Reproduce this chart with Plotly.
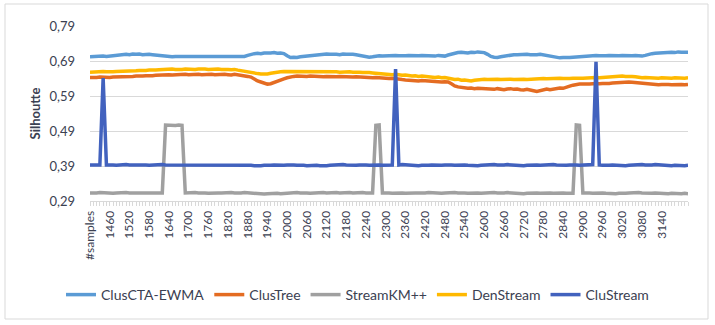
import plotly.graph_objects as go

# x categories: header row "#samples" followed by sample counts
categories = ["#samples"] + [str(v) for v in range(1410, 3230, 10)]
# labels shown on the axis (every 6th category, up to 3140 as in the source chart)
shown_labels = ["#samples"] + [str(v) for v in range(1460, 3141, 60)]
tick_labels = [c if c in shown_labels else "" for c in categories]

clus_cta_ewma = [
    .702,.703,.702,.703,.704,.703,.704,.705,.706,.708,
    .708,.709,.708,.710,.709,.710,.708,.709,.709,.708,
    .707,.706,.704,.702,.701,.702,.703,.703,.704,.703,
    .704,.703,.704,.705,.704,.703,.704,.705,.704,.703,
    .704,.705,.704,.703,.704,.705,.704,.703,.706,.709,
    .711,.712,.711,.713,.712,.713,.714,.712,.713,.711,
    .705,.700,.701,.700,.702,.703,.704,.706,.705,.707,
    .708,.709,.710,.709,.710,.709,.708,.710,.709,.710,
    .709,.708,.706,.703,.702,.701,.702,.704,.705,.704,
    .705,.704,.705,.706,.705,.704,.705,.706,.705,.704,
    .705,.706,.705,.704,.705,.704,.706,.705,.704,.707,
    .710,.713,.714,.715,.714,.713,.715,.714,.716,.715,
    .714,.709,.703,.701,.700,.702,.704,.706,.707,.708,
    .708,.709,.708,.709,.708,.707,.708,.709,.707,.706,
    .704,.702,.700,.699,.700,.699,.700,.701,.702,.703,
    .704,.705,.704,.705,.706,.705,.704,.705,.706,.705,
    .704,.705,.706,.705,.704,.705,.706,.705,.704,.706,
    .709,.711,.712,.713,.714,.713,.714,.715,.714,.716,
    .715,.716,.715,
]

clus_tree = [
    .643,.642,.643,.644,.643,.642,.643,.644,.644,.645,
    .645,.646,.645,.646,.647,.646,.647,.648,.647,.648,
    .649,.650,.649,.650,.651,.650,.651,.652,.651,.652,
    .651,.652,.653,.652,.651,.652,.653,.652,.651,.652,
    .653,.652,.651,.650,.652,.651,.649,.648,.646,.644,
    .637,.633,.630,.626,.624,.625,.629,.633,.636,.639,
    .642,.645,.646,.647,.646,.647,.646,.647,.646,.647,
    .646,.645,.646,.645,.646,.645,.646,.645,.644,.645,
    .644,.645,.644,.643,.644,.643,.642,.643,.642,.641,
    .641,.640,.641,.639,.638,.637,.636,.635,.635,.634,
    .633,.634,.633,.632,.631,.632,.631,.630,.631,.630,
    .625,.619,.616,.614,.613,.612,.613,.611,.612,.611,
    .610,.611,.610,.609,.611,.610,.608,.610,.611,.609,
    .610,.608,.607,.609,.606,.605,.603,.606,.609,.610,
    .608,.610,.611,.613,.612,.614,.618,.621,.623,.624,
    .624,.623,.624,.625,.624,.625,.626,.625,.626,.627,
    .628,.629,.630,.629,.630,.629,.628,.626,.625,.624,
    .623,.624,.623,.622,.623,.624,.623,.622,.623,.622,
    .623,.622,.623,
]

stream_km = [
    .313,.312,.313,.314,.313,.314,.313,.312,.313,.314,
    .313,.314,.313,.313,.314,.313,.312,.313,.314,.313,
    .313,.314,.313,.507,.506,.505,.506,.507,.506,.313,
    .314,.313,.314,.313,.314,.313,.312,.313,.314,.313,
    .313,.314,.313,.314,.313,.312,.313,.314,.313,.312,
    .311,.312,.311,.310,.311,.312,.311,.312,.311,.312,
    .313,.314,.313,.314,.313,.314,.313,.312,.313,.314,
    .313,.314,.313,.314,.315,.314,.313,.314,.313,.314,
    .313,.314,.313,.314,.313,.314,.313,.506,.507,.313,
    .314,.313,.312,.313,.314,.313,.312,.313,.312,.313,
    .313,.312,.313,.314,.313,.314,.313,.312,.313,.314,
    .315,.314,.313,.314,.313,.312,.313,.312,.313,.312,
    .313,.314,.313,.314,.313,.312,.313,.314,.313,.312,
    .311,.312,.311,.312,.313,.314,.313,.312,.313,.312,
    .313,.312,.313,.312,.313,.312,.313,.312,.507,.506,
    .313,.314,.313,.312,.313,.312,.313,.312,.311,.312,
    .311,.312,.311,.312,.313,.314,.313,.314,.313,.312,
    .313,.312,.313,.312,.311,.312,.311,.312,.311,.312,
    .311,.312,.311,
]

den_stream = [
    .658,.659,.658,.659,.660,.659,.658,.659,.660,.660,
    .661,.660,.662,.661,.662,.663,.662,.663,.664,.663,
    .664,.665,.666,.665,.666,.667,.666,.665,.666,.667,
    .666,.667,.666,.667,.668,.667,.666,.667,.666,.667,
    .666,.667,.666,.665,.666,.664,.662,.661,.660,.658,
    .656,.654,.653,.652,.653,.655,.657,.658,.659,.660,
    .660,.661,.660,.659,.660,.661,.660,.659,.660,.661,
    .660,.659,.660,.659,.660,.659,.658,.659,.658,.659,
    .658,.659,.658,.657,.658,.657,.656,.655,.654,.653,
    .653,.652,.651,.652,.650,.649,.650,.648,.647,.648,
    .646,.647,.646,.644,.645,.643,.644,.642,.643,.641,
    .640,.637,.638,.635,.636,.634,.633,.635,.636,.638,
    .638,.637,.638,.639,.638,.637,.638,.639,.638,.637,
    .638,.639,.638,.637,.638,.639,.638,.639,.640,.639,
    .640,.639,.640,.641,.640,.639,.640,.641,.640,.641,
    .641,.642,.641,.642,.643,.642,.643,.644,.643,.644,
    .645,.646,.647,.646,.647,.646,.645,.643,.642,.643,
    .642,.641,.642,.641,.642,.641,.642,.641,.642,.641,
    .642,.641,.642,
]

clu_stream = [
    .393,.394,.393,.393,.641,.393,.394,.393,.392,.393,
    .393,.394,.393,.394,.393,.393,.394,.393,.392,.393,
    .394,.393,.394,.393,.393,.394,.393,.392,.393,.394,
    .393,.394,.393,.394,.393,.394,.393,.392,.393,.394,
    .393,.394,.393,.392,.393,.394,.393,.392,.393,.392,
    .391,.390,.391,.392,.391,.392,.393,.392,.393,.392,
    .393,.394,.393,.392,.393,.392,.391,.392,.393,.392,
    .391,.390,.391,.392,.393,.392,.393,.394,.393,.392,
    .393,.392,.393,.394,.393,.392,.393,.392,.393,.392,
    .393,.394,.393,.667,.393,.394,.393,.392,.391,.390,
    .391,.392,.391,.392,.393,.392,.391,.392,.393,.394,
    .393,.392,.393,.394,.393,.392,.391,.390,.391,.392,
    .393,.392,.393,.394,.393,.392,.393,.394,.393,.392,
    .391,.392,.391,.392,.393,.392,.393,.392,.393,.392,
    .393,.394,.393,.392,.393,.392,.393,.394,.393,.392,
    .393,.392,.393,.394,.688,.393,.392,.391,.392,.393,
    .392,.391,.390,.391,.392,.393,.394,.393,.394,.393,
    .392,.393,.394,.393,.392,.393,.392,.391,.392,.391,
    .392,.391,.392,
]

series = [
    ("ClusCTA-EWMA", clus_cta_ewma, "#5B9BD5"),
    ("ClusTree", clus_tree, "#E46C22"),
    ("StreamKM++", stream_km, "#A0A0A0"),
    ("DenStream", den_stream, "#FFB900"),
    ("CluStream", clu_stream, "#4262BE"),
]

y_ticks = [0.29, 0.39, 0.49, 0.59, 0.69, 0.79]
y_tick_text = ["0,29", "0,39", "0,49", "0,59", "0,69", "0,79"]

FONT = "Lato, 'Noto Sans', sans-serif"
TXT = "#3b4152"

fig = go.Figure()
for name, vals, color in series:
    fig.add_trace(go.Scatter(
        x=categories, y=vals, name=name, mode="lines",
        line=dict(color=color, width=3.5),
    ))

L, R, T, B = 90, 27, 26, 124
PW, PH = 715 - L - R, 325 - T - B

fig.update_layout(
    width=715, height=325,
    margin=dict(l=L, r=R, t=T, b=B, pad=0),
    paper_bgcolor="white", plot_bgcolor="white",
    font=dict(family=FONT, color=TXT, size=12),
    showlegend=True,
    legend=dict(
        orientation="h", xref="container", x=0.5, xanchor="center",
        yref="container", y=1 - 295 / 325, yanchor="middle",
        font=dict(size=14, color=TXT), itemwidth=30, tracegroupgap=0,
        bgcolor="rgba(0,0,0,0)",
    ),
    xaxis=dict(
        type="category", categoryorder="array", categoryarray=categories,
        range=[0, len(categories) - 1],
        tickmode="array", tickvals=categories, ticktext=tick_labels,
        tickangle=-90, tickfont=dict(size=12, color=TXT),
        ticks="outside", ticklen=4, tickcolor="#D9D9D9", tickwidth=1,
        showline=True, linecolor="#D9D9D9", linewidth=1,
        showgrid=False, zeroline=False,
    ),
    yaxis=dict(
        range=[0.29, 0.79], tickmode="array", tickvals=y_ticks, ticktext=y_tick_text,
        tickfont=dict(size=13, color=TXT), ticks="", ticklabelstandoff=14,
        showgrid=True, gridcolor="#D9D9D9", gridwidth=1,
        zeroline=False, showline=False,
        title=dict(text="<b>Silhoutte</b>", font=dict(size=13, color=TXT), standoff=5),
    ),
    shapes=[dict(
        type="rect", xref="paper", yref="paper",
        x0=(5 - L) / PW, x1=(708 - L) / PW,
        y0=-(319 - (T + PH)) / PH, y1=1 + (T - 4) / PH,
        line=dict(color="#D9D9D9", width=1), fillcolor="rgba(0,0,0,0)", layer="below",
    )],
)

fig.write_html("out.html")
